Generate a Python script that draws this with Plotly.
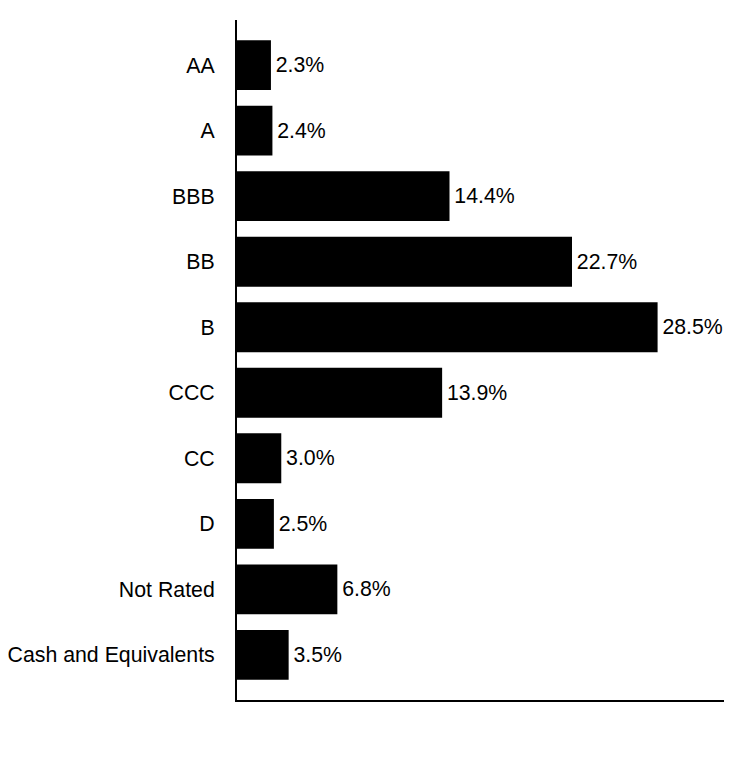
import plotly.graph_objects as go

# credit quality breakdown
ratings = ["AA", "A", "BBB", "BB", "B", "CCC", "CC", "D", "Not Rated", "Cash and Equivalents"]
weights = [2.3, 2.4, 14.4, 22.7, 28.5, 13.9, 3.0, 2.5, 6.8, 3.5]
labels = [f"\u200a{w:.1f}%" for w in weights]

fig = go.Figure()
fig.add_trace(go.Bar(
    x=weights,
    y=ratings,
    orientation="h",
    width=0.76,
    marker=dict(color="#000000", line=dict(width=0)),
    text=labels,
    textposition="outside",
    textfont=dict(size=21.3, color="#000000", family="Liberation Sans, Arial, sans-serif"),
    cliponaxis=False,
))

fig.update_layout(
    width=744, height=780,
    margin=dict(l=229, r=28, t=12, b=88),
    paper_bgcolor="white",
    plot_bgcolor="white",
    showlegend=False,
    font=dict(family="Liberation Sans, Arial, sans-serif", size=21.3, color="#000000"),
)
fig.update_xaxes(
    range=[0, 33],
    showgrid=False, zeroline=False, automargin=False,
    showticklabels=False, ticks="",
    showline=True, linecolor="#000000", linewidth=2,
)
fig.update_yaxes(
    categoryorder="array", categoryarray=ratings,
    range=[9.69, -0.69],
    showgrid=False, zeroline=False, automargin=False,
    ticks="", ticklabelstandoff=16,
    showline=True, linecolor="#000000", linewidth=2,
)

fig.write_html("out.html")
